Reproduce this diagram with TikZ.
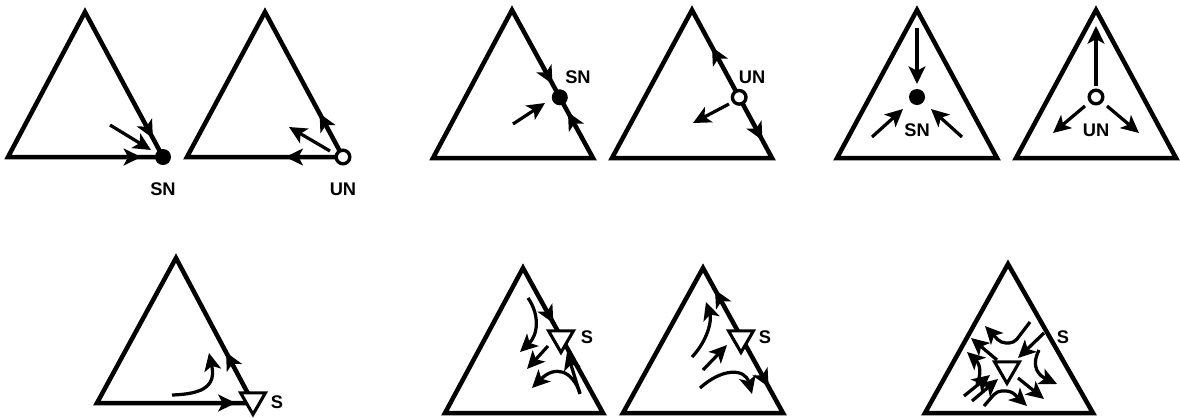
\documentclass[tikz,border=0pt]{standalone}
\usepackage{fontspec}
\setmainfont{Liberation Sans}
\usepackage{tikz}
\usetikzlibrary{arrows.meta,calc,shapes.geometric}

\begin{document}
\begin{tikzpicture}[
  x=0.025cm, y=-0.025cm,
  tri/.style={line width=3.2pt, line join=miter},
  arr/.style={line width=2.3pt, -{Stealth[length=4.4mm,width=4.2mm,inset=1.1mm]}},
  sn/.style={circle, fill=black, minimum size=0.4cm, inner sep=0pt},
  un/.style={circle, draw, fill=white, line width=2.4pt, minimum size=0.34cm, inner sep=0pt},
  saddle/.style={regular polygon, regular polygon sides=3, shape border rotate=180,
                 draw, fill=white, line width=2.2pt, minimum size=0.72cm, inner sep=0pt},
  lbl/.style={font=\fontsize{13}{15}\bfseries\selectfont, inner sep=0pt}
]
  \useasboundingbox (0,0) rectangle (1180,417);

  % top row: nodes
  \coordinate (a1) at (85,12);   \coordinate (l1) at (8,157);   \coordinate (r1) at (163,157);
  \coordinate (a2) at (265,12);  \coordinate (l2) at (187,157); \coordinate (r2) at (343,157);
  \coordinate (a3) at (512,10);  \coordinate (l3) at (433,158); \coordinate (r3) at (593,158);
  \coordinate (a4) at (692,10);  \coordinate (l4) at (612,158); \coordinate (r4) at (772,158);
  \coordinate (a5) at (917,10);  \coordinate (l5) at (837,158); \coordinate (r5) at (997,158);
  \coordinate (a6) at (1096,10); \coordinate (l6) at (1016,158); \coordinate (r6) at (1176,158);

  % bottom row: saddles
  \coordinate (a7) at (176,258);  \coordinate (l7) at (97,403);  \coordinate (r7) at (253,403);
  \coordinate (a8) at (523,268);  \coordinate (l8) at (445,413); \coordinate (r8) at (603,413);
  \coordinate (a9) at (703,268);  \coordinate (l9) at (623,413); \coordinate (r9) at (783,413);
  \coordinate (a10) at (1008,264); \coordinate (l10) at (925,413); \coordinate (r10) at (1093,413);

  \foreach \i in {1,...,10}
    \draw[tri] (a\i) -- (l\i) -- (r\i) -- cycle;

  % SN at corner
  \draw[arr] ($(a1)!0.6!(r1)$) -- ($(a1)!0.87!(r1)$);
  \draw[arr] ($(l1)!0.6!(r1)$) -- ($(l1)!0.86!(r1)$);
  \draw[arr] (110,125) -- (151,150);
  \node[sn] (n1) at (r1) {};
  \node[lbl] (t1) at (163,189) {SN};

  % UN at corner
  \draw[arr] ($(r2)!0.1!(a2)$) -- ($(r2)!0.3!(a2)$);
  \draw[arr] ($(r2)!0.1!(l2)$) -- ($(r2)!0.37!(l2)$);
  \draw[arr] (330,151) -- (289,127);
  \node[un] (n2) at (r2) {};
  \node[lbl] (t2) at (343,189) {UN};

  % SN on edge
  \draw[arr] ($(a3)!0.3!(r3)$) -- ($(a3)!0.5!(r3)$);
  \draw[arr] ($(a3)!0.95!(r3)$) -- ($(a3)!0.69!(r3)$);
  \draw[arr] (513,124) -- (545,103);
  \node[sn] (n3) at ($(a3)!0.59!(r3)$) {};
  \node[lbl] (t3) at (578,77) {SN};

  % UN on edge
  \draw[arr] ($(a4)!0.5!(r4)$) -- ($(a4)!0.25!(r4)$);
  \draw[arr] ($(a4)!0.7!(r4)$) -- ($(a4)!0.88!(r4)$);
  \draw[arr] (729,104) -- (693,123);
  \node[un] (n4) at ($(a4)!0.59!(r4)$) {};
  \node[lbl] (t4) at (752,77) {UN};

  % SN inside
  \draw[arr] (917,28) -- (917,84);
  \draw[arr] (872,137) -- (903,109);
  \draw[arr] (962,137) -- (931,109);
  \node[sn] (n5) at (917,97) {};
  \node[lbl] (t5) at (917,130) {SN};

  % UN inside
  \draw[arr] (1096,86) -- (1096,26);
  \draw[arr] (1085,106) -- (1053,133);
  \draw[arr] (1107,106) -- (1139,133);
  \node[un] (n6) at (1096,97) {};
  \node[lbl] (t6) at (1096,130) {UN};

  % S at corner
  \draw[arr] ($(r7)!0.15!(a7)$) -- ($(r7)!0.35!(a7)$);
  \draw[arr] ($(l7)!0.5!(r7)$) -- ($(l7)!0.89!(r7)$);
  \draw[arr] (172,395) .. controls (205,394) and (216,385) .. (209,353);
  \node[saddle] (s7) at (253,400) {};
  \node[lbl] (t7) at (277,402) {S};

  % S on edge, attracting side
  \draw[arr] ($(a8)!0.2!(r8)$) -- ($(a8)!0.38!(r8)$);
  \draw[arr] (580,394) -- (567,352);
  \draw[arr] (528,298) .. controls (540,315) and (538,335) .. (520,352);
  \draw[arr] (548,346) -- (527,369);
  \draw[arr] (580,393) .. controls (572,370) and (555,365) .. (532,388);
  \node[saddle] (s8) at (561,338) {};
  \node[lbl] (t8) at (587,337) {S};

  % S on edge, repelling side
  \draw[arr] ($(a9)!0.4!(r9)$) -- ($(a9)!0.15!(r9)$);
  \draw[arr] ($(a9)!0.62!(r9)$) -- ($(a9)!0.82!(r9)$);
  \draw[arr] (692,357) .. controls (708,340) and (712,320) .. (706,302);
  \draw[arr] (703,370) -- (727,345);
  \draw[arr] (700,388) .. controls (722,368) and (745,368) .. (752,394);
  \node[saddle] (s9) at (741,338) {};
  \node[lbl] (t9) at (765,337) {S};

  % S inside
  \draw[arr, rounded corners=0.12cm] (1030,322) -- (1014,343) -- (1001,343) -- (985,326);
  \draw[arr] (1044,333) -- (1018,358);
  \draw[arr] (997,360) -- (971,338);
  \draw[arr] (977,384) .. controls (983,370) and (978,362) .. (967,352);
  \draw[arr] (964,396) -- (990,375);
  \draw[arr] (972,401) -- (998,379);
  \draw[arr, rounded corners=0.12cm] (984,406) -- (997,391) -- (1011,391) -- (1027,406);
  \draw[arr] (1018,378) -- (1044,399);
  \draw[arr] (1039,350) .. controls (1030,368) and (1040,376) .. (1057,384);
  \node[saddle] (s10) at (1007,369) {};
  \node[lbl] (t10) at (1063,337) {S};
\end{tikzpicture}
\end{document}
